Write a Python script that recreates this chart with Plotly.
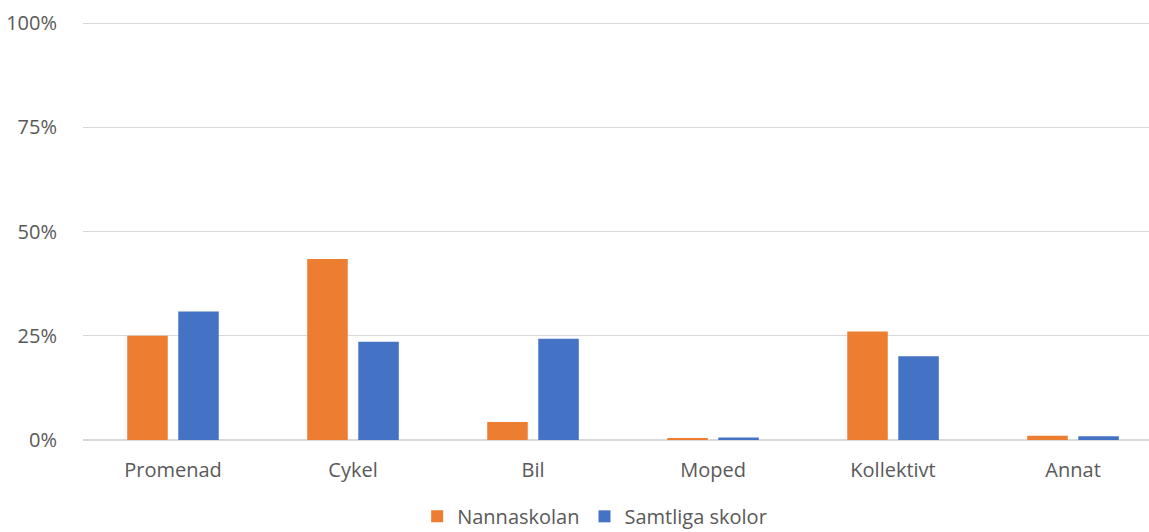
import plotly.graph_objects as go

categories = ["Promenad", "Cykel", "Bil", "Moped", "Kollektivt", "Annat"]
nannaskolan = [25.0, 43.4, 4.3, 0.5, 26.0, 1.0]
samtliga = [30.8, 23.6, 24.3, 0.6, 20.1, 0.9]
y_ticks = [0, 25, 50, 75, 100]
y_tick_labels = ["0%", "25%", "50%", "75%", "100%"]

fig = go.Figure()
fig.add_trace(go.Bar(name="Nannaskolan", x=categories, y=nannaskolan,
                     marker=dict(color="#ED7D31", line=dict(width=0))))
fig.add_trace(go.Bar(name="Samtliga skolor", x=categories, y=samtliga,
                     marker=dict(color="#4472C4", line=dict(width=0))))

font_family = "Open Sans, Liberation Sans, sans-serif"
fig.update_layout(
    width=1149, height=532,
    margin=dict(l=83, r=0, t=19, b=92, autoexpand=False),
    paper_bgcolor="white", plot_bgcolor="white",
    barmode="group", bargap=0.433, bargroupgap=0.206,
    font=dict(family=font_family, size=20, color="#595959"),
    showlegend=True,
    legend=dict(orientation="h", x=0.48, xanchor="center", y=-0.135, yanchor="top",
                font=dict(size=20, color="#595959"), itemsizing="constant",
                traceorder="normal"),
    xaxis=dict(showgrid=False, showline=False, zeroline=False, automargin=False,
               range=[-0.5, 5.422],
               ticks="outside", ticklen=12, tickcolor="rgba(0,0,0,0)",
               tickfont=dict(size=20, color="#595959")),
    yaxis=dict(range=[0, 101], tickvals=y_ticks, ticktext=y_tick_labels,
               showgrid=True, gridcolor="#D9D9D9", gridwidth=1.3, automargin=False,
               zeroline=True, zerolinecolor="#D9D9D9", zerolinewidth=1.5,
               showline=False, ticks="outside", ticklen=21,
               tickcolor="rgba(0,0,0,0)",
               tickfont=dict(size=20, color="#595959")),
)

fig.write_html("out.html", config={"displayModeBar": False},
               post_script="document.body.style.margin='0';")
